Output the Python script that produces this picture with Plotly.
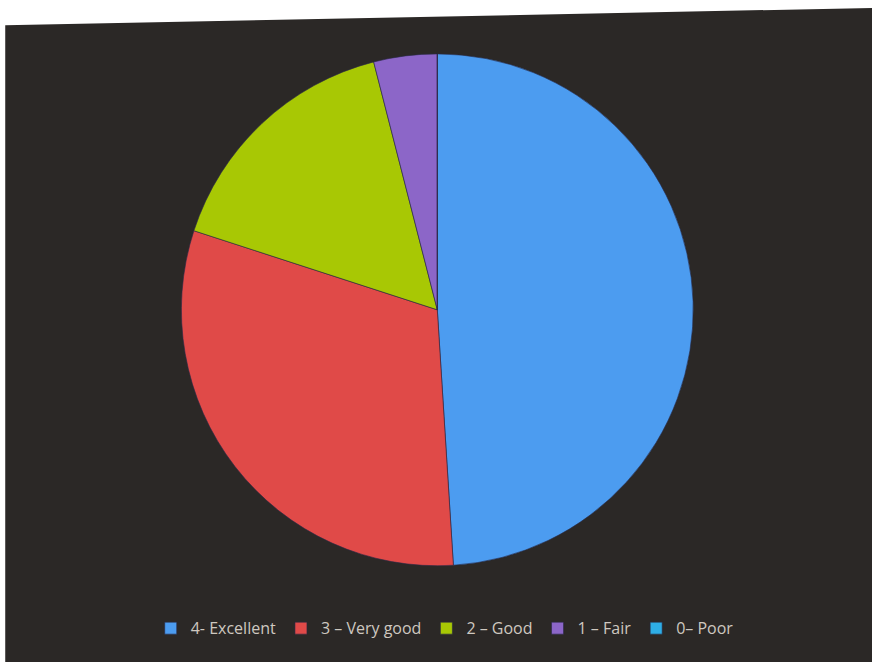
import plotly.graph_objects as go

labels = ["4- Excellent", "3 \u2013 Very good", "2 \u2013 Good", "1 \u2013 Fair", "0\u2013 Poor"]
values = [49, 31, 16, 4, 0]
colors = ["#4c9cf0", "#e04a48", "#a8c804", "#8c66c8", "#2eaee6"]

fig = go.Figure(go.Pie(
    labels=labels,
    values=values,
    sort=False,
    direction="clockwise",
    rotation=0,
    textinfo="none",
    hoverinfo="label+percent",
    marker=dict(colors=colors, line=dict(color="rgba(40,40,70,0.6)", width=1)),
    domain=dict(x=[0.208, 0.795], y=[0.13, 0.934]),
    showlegend=True,
))

fig.update_layout(
    width=872, height=662,
    margin=dict(l=0, r=0, t=0, b=0),
    paper_bgcolor="white",
    shapes=[dict(
        type="path", xref="paper", yref="paper", layer="below",
        path="M 0.006 0 L 0.006 0.962 L 1 0.988 L 1 0 Z",
        fillcolor="#2b2826", line=dict(width=0),
    )],
    legend=dict(
        orientation="h", x=0.51, xanchor="center", y=0.051, yanchor="middle",
        font=dict(family="Open Sans, Lato, sans-serif", size=16, color="#cfc8c0"),
        bgcolor="rgba(0,0,0,0)", itemwidth=30,
    ),
)

fig.write_html(
    "out.html",
    config={"displayModeBar": False},
    post_script="document.body.style.margin='0';document.body.style.overflow='hidden';",
)
